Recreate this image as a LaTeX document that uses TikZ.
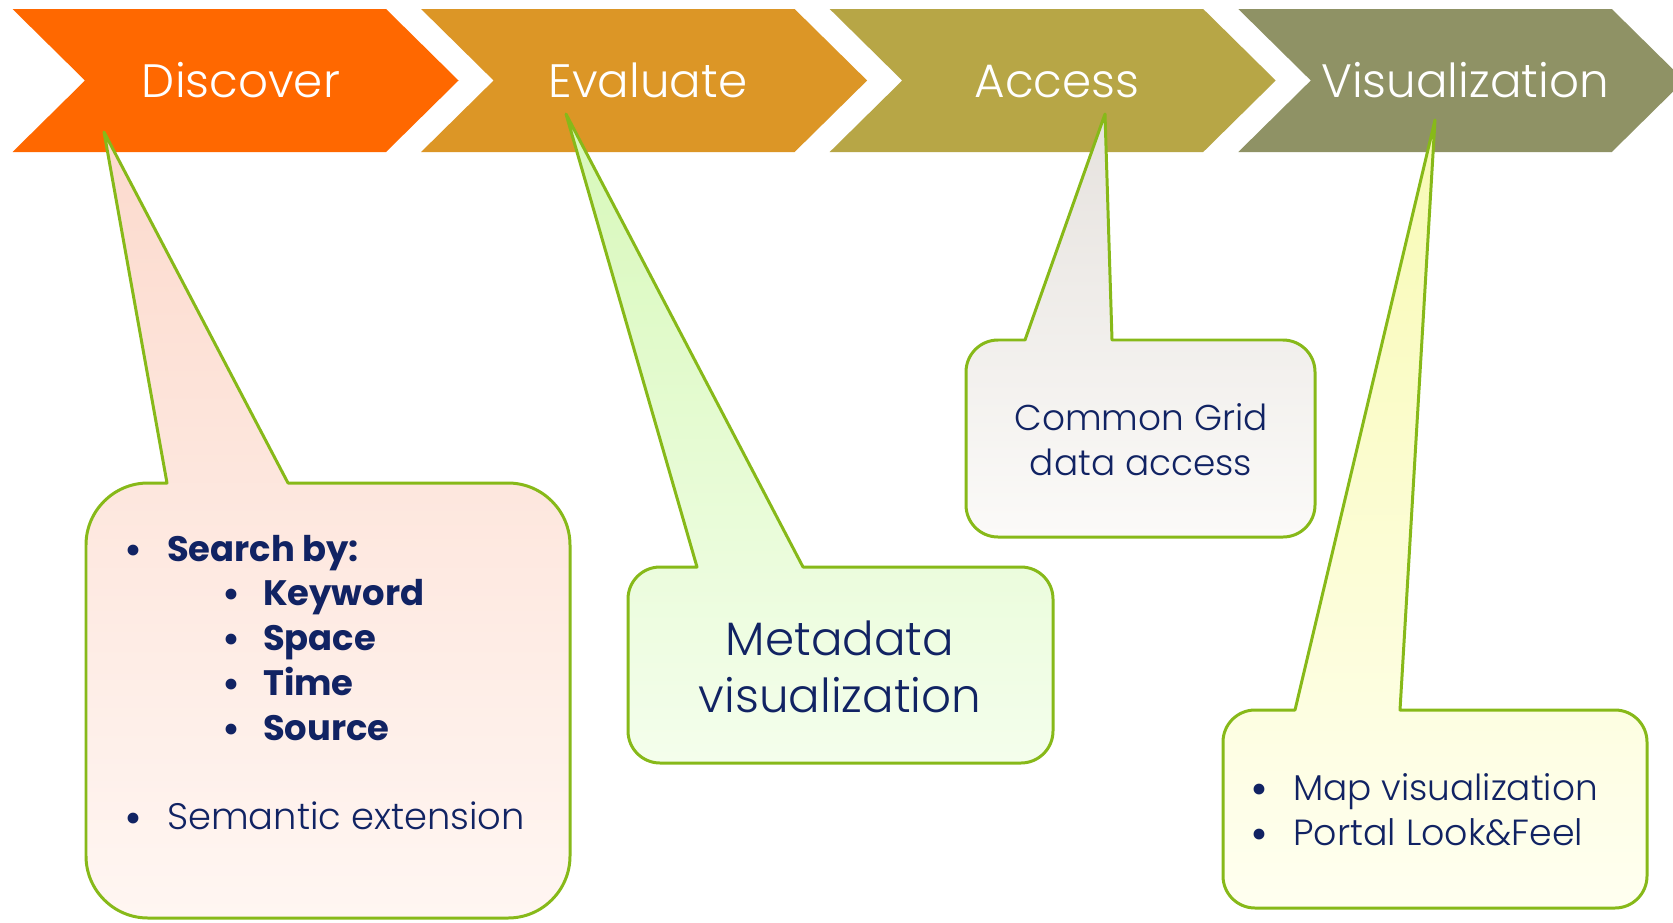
\documentclass[tikz,border=0pt]{standalone}
\usepackage{fontspec}
\setmainfont{Poppins}[UprightFont=* Light, BoldFont=* Bold]
\definecolor{cDisc}{RGB}{255,104,0}
\definecolor{cEval}{RGB}{220,150,38}
\definecolor{cAcc}{RGB}{183,166,70}
\definecolor{cVis}{RGB}{143,146,101}
\definecolor{navy}{RGB}{17,35,99}
\definecolor{edge}{RGB}{135,185,25}
\definecolor{pinkT}{RGB}{252,218,205}
\definecolor{pinkB}{RGB}{255,246,242}
\definecolor{greenT}{RGB}{215,248,185}
\definecolor{greenB}{RGB}{244,254,236}
\definecolor{grayT}{RGB}{230,226,222}
\definecolor{grayB}{RGB}{251,250,248}
\definecolor{yelT}{RGB}{248,250,180}
\definecolor{yelB}{RGB}{255,255,240}
% chevron: left x
\newcommand\mychev[1]{(#1,9) -- ({#1+373.5},9) -- ({#1+446},80.5) -- ({#1+373.5},152) -- (#1,152) -- ({#1+72.5},80.5) -- cycle}
% callout: L T R B r baseL baseR tipx tipy
\newcommand\mycallout[9]{({#1+#5},#2) -- (#6,#2) -- (#8,#9) -- (#7,#2) -- ({#3-#5},#2) .. controls ({#3-0.448*#5},#2) and (#3,{#2+0.448*#5}) .. (#3,{#2+#5}) -- (#3,{#4-#5}) .. controls (#3,{#4-0.448*#5}) and ({#3-0.448*#5},#4) .. ({#3-#5},#4) -- ({#1+#5},#4) .. controls ({#1+0.448*#5},#4) and (#1,{#4-0.448*#5}) .. (#1,{#4-#5}) -- (#1,{#2+#5}) .. controls (#1,{#2+0.448*#5}) and ({#1+0.448*#5},#2) .. cycle}
\tikzset{
  chevtext/.style={text=white, inner sep=0pt, anchor=base, font=\fontsize{47}{56}\selectfont},
  bubble/.style={draw=edge, line width=3pt, line join=round},
  btext/.style={text=navy, inner sep=0pt, anchor=base west},
  ctext/.style={text=navy, inner sep=0pt, anchor=base},
  bul/.style={text=navy, inner sep=0pt, anchor=base, font=\fontsize{36}{42}\selectfont\bfseries},
}
\begin{document}
\begin{tikzpicture}[x=1bp, y=-1bp]
\useasboundingbox (0,0) rectangle (1673,922);
\clip (0,0) rectangle (1673,922);
\fill[white] (0,0) rectangle (1673,922);
% chevrons
\fill[cDisc] \mychev{12.5};
\fill[cEval] \mychev{421.1};
\fill[cAcc]  \mychev{829.7};
\fill[cVis]  \mychev{1238.3};
\node[chevtext] (discover) at (241,97) {Discover};
\node[chevtext] (evaluate) at (648,97) {Evaluate};
\node[chevtext] (access) at (1057,97) {Access};
\node[chevtext] (visual) at (1465,97) {Visualization};
% callouts
\path[bubble, top color=pinkT, bottom color=pinkB] \mycallout{86}{483}{570}{918}{62}{167}{288}{104}{132};
\path[bubble, top color=greenT, bottom color=greenB] \mycallout{628}{567}{1053}{763}{32}{697}{803}{566}{114};
\path[bubble, top color=grayT, bottom color=grayB] \mycallout{966}{340}{1315}{537}{32}{1025}{1112}{1105}{114};
\path[bubble, top color=yelT, bottom color=yelB] \mycallout{1223}{710}{1647}{908}{32}{1295}{1400}{1435}{120};
% callout 1 text
\begin{scope}[every node/.append style={font=\fontsize{35.5}{44}\selectfont\bfseries}]
\node[btext] (search) at (167,561) {Search by:};
\node[btext] (kw) at (263,605) {Keyword};
\node[btext] (sp) at (263,650) {Space};
\node[btext] (tm) at (263,695) {Time};
\node[btext] (src) at (263,740) {Source};
\end{scope}
\node[bul] (b1) at (133,562) {\textbullet};
\node[bul] (b2) at (231,606) {\textbullet};
\node[bul] (b3) at (231,651) {\textbullet};
\node[bul] (b4) at (231,696) {\textbullet};
\node[bul] (b5) at (231,741) {\textbullet};
\node[bul] (b6) at (133,830) {\textbullet};
\node[btext, font=\fontsize{37}{44}\selectfont] (sem) at (167,829) {Semantic extension};
% callout 2 text
\node[ctext, font=\fontsize{47}{56}\selectfont] (meta1) at (840,655) {Metadata};
\node[ctext, font=\fontsize{47}{56}\selectfont] (meta2) at (840,712) {visualization};
% callout 3 text
\node[ctext, font=\fontsize{36}{43}\selectfont] (grid1) at (1141,430) {Common Grid};
\node[ctext, font=\fontsize{36}{43}\selectfont] (grid2) at (1141,475) {data access};
% callout 4 text
\node[bul] (b7) at (1259,801) {\textbullet};
\node[btext, font=\fontsize{36}{43}\selectfont] (map) at (1293,800) {Map visualization};
\node[bul] (b8) at (1259,846) {\textbullet};
\node[btext, font=\fontsize{36.5}{43}\selectfont] (portal) at (1293,845) {Portal Look\&Feel};
\end{tikzpicture}
\end{document}
